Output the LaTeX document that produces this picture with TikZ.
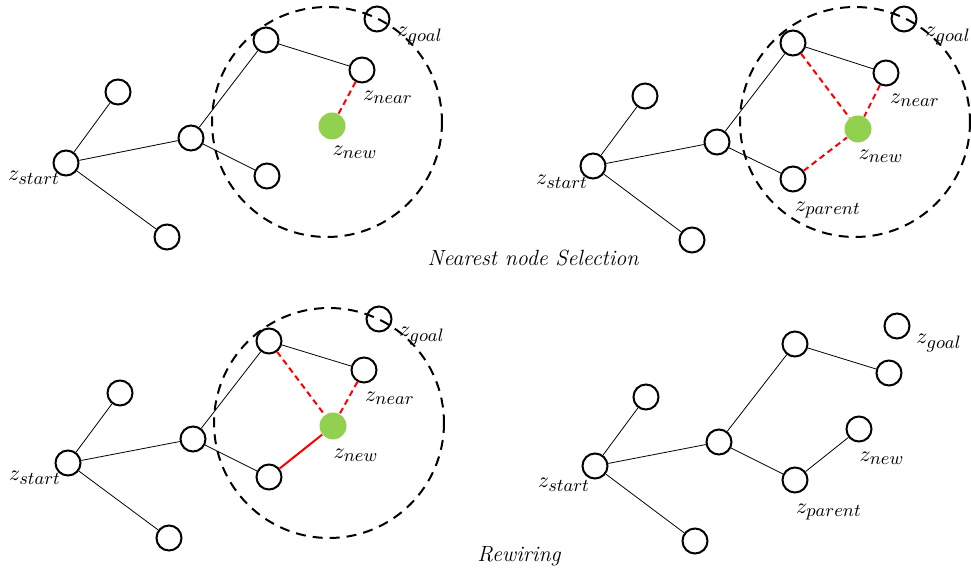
\documentclass[tikz,border=0pt]{standalone}
\DeclareMathSizes{11}{11}{9}{7}
\begin{document}
\begin{tikzpicture}[x=0.5pt,y=-0.5pt,
  vtx/.style={circle,draw=black,line width=1pt,minimum size=12.5pt,inner sep=0pt},
  newvtx/.style={circle,fill=newgreen,minimum size=13.5pt,inner sep=0pt},
  treelink/.style={draw=black,line width=0.4pt},
  candlink/.style={draw=red,line width=1pt,dash pattern=on 3pt off 2pt},
  chosenlink/.style={draw=red,line width=1pt},
  rangecirc/.style={draw=black,line width=1pt,dash pattern=on 5pt off 3.5pt},
  lbl/.style={inner sep=0pt,font=\fontsize{11}{13}\selectfont},
  captext/.style={inner sep=0pt,font=\fontsize{11}{13}\selectfont\itshape}]
\definecolor{newgreen}{HTML}{92D050}
\useasboundingbox (0,0) rectangle (971,571);
% ---------- panel 1 ----------
\node[vtx] (a0) at (66,163) {};
\node[vtx] (a1) at (118,92) {};
\node[vtx] (a2) at (167,237) {};
\node[vtx] (a3) at (191,138) {};
\node[vtx] (a4) at (266,40) {};
\node[vtx] (a5) at (362,70) {};
\node[vtx] (a6) at (267,176) {};
\node[newvtx] (an) at (332,126) {};
\node[vtx] (ag) at (377,19) {};
\draw[treelink] (a0)--(a1) (a0)--(a2) (a0)--(a3) (a3)--(a4) (a4)--(a5) (a3)--(a6);
\draw[candlink] (a5)--(an);
\draw[rangecirc] (327,122) circle[radius=115];
\node[lbl] at (34,178) {$z_{start}$};
\node[lbl] at (420,36) {$z_{goal}$};
\node[lbl] at (388,97) {$z_{near}$};
\node[lbl] at (355,152) {$z_{new}$};
% ---------- panel 2 ----------
\node[vtx] (b0) at (593,166) {};
\node[vtx] (b1) at (645,96) {};
\node[vtx] (b2) at (692,240) {};
\node[vtx] (b3) at (717,142) {};
\node[vtx] (b4) at (793,43) {};
\node[vtx] (b5) at (886,73) {};
\node[vtx] (b6) at (793,179) {};
\node[newvtx] (bn) at (858,129) {};
\node[vtx] (bg) at (904,19) {};
\draw[treelink] (b0)--(b1) (b0)--(b2) (b0)--(b3) (b3)--(b4) (b4)--(b5) (b3)--(b6);
\draw[candlink] (b4)--(bn) (b5)--(bn) (b6)--(bn);
\draw[rangecirc] (855,122) circle[radius=115];
\node[lbl] at (562,182) {$z_{start}$};
\node[lbl] at (948,36) {$z_{goal}$};
\node[lbl] at (915,100) {$z_{near}$};
\node[lbl] at (881,156) {$z_{new}$};
\node[lbl] at (828,210) {$z_{parent}$};
\node[captext] (cap1) at (533,258) {Nearest node Selection};
% ---------- panel 3 ----------
\node[vtx] (c0) at (68,463) {};
\node[vtx] (c1) at (120,393) {};
\node[vtx] (c2) at (169,538) {};
\node[vtx] (c3) at (193,439) {};
\node[vtx] (c4) at (269,341) {};
\node[vtx] (c5) at (364,370) {};
\node[vtx] (c6) at (269,477) {};
\node[newvtx] (cn) at (333,426) {};
\node[vtx] (cg) at (379,319) {};
\draw[treelink] (c0)--(c1) (c0)--(c2) (c0)--(c3) (c3)--(c4) (c4)--(c5) (c3)--(c6);
\draw[candlink] (c4)--(cn) (c5)--(cn);
\draw[chosenlink] (c6)--(cn);
\draw[rangecirc] (329,423) circle[radius=115];
\node[lbl] at (35,478) {$z_{start}$};
\node[lbl] at (422,336) {$z_{goal}$};
\node[lbl] at (390,398) {$z_{near}$};
\node[lbl] at (356,455) {$z_{new}$};
% ---------- panel 4 ----------
\node[vtx] (d0) at (595,466) {};
\node[vtx] (d1) at (646,397) {};
\node[vtx] (d2) at (695,541) {};
\node[vtx] (d3) at (719,442) {};
\node[vtx] (d4) at (795,344) {};
\node[vtx] (d5) at (889,373) {};
\node[vtx] (d6) at (795,480) {};
\node[vtx] (dn) at (859,429) {};
\node[vtx] (dg) at (897,326) {};
\draw[treelink] (d0)--(d1) (d0)--(d2) (d0)--(d3) (d3)--(d4) (d4)--(d5) (d3)--(d6) (d6)--(dn);
\node[lbl] at (564,485) {$z_{start}$};
\node[lbl] at (939,343) {$z_{goal}$};
\node[lbl] at (882,458) {$z_{new}$};
\node[lbl] at (829,512) {$z_{parent}$};
\node[captext] (cap2) at (519,556) {Rewiring};
\end{tikzpicture}
\end{document}
